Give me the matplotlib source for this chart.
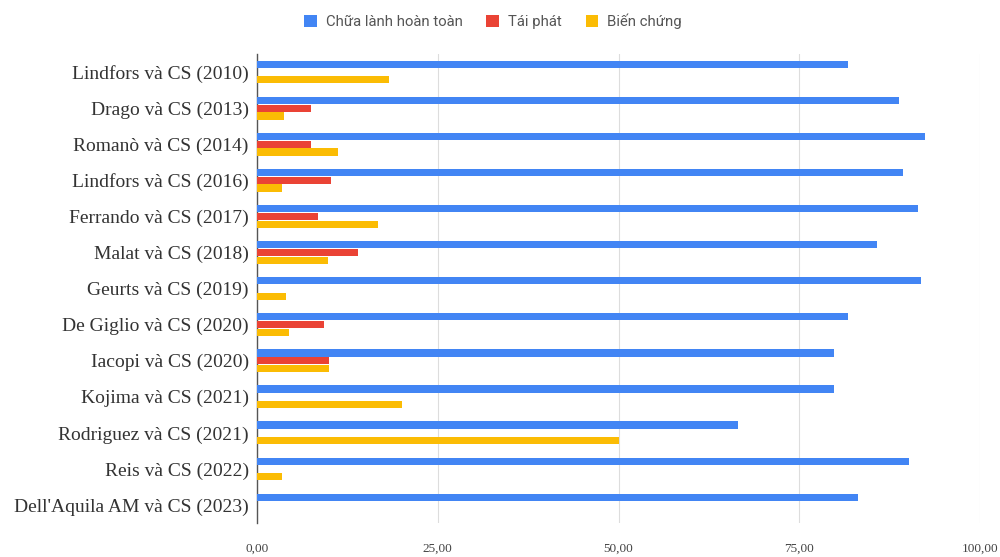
import numpy as np
import matplotlib
matplotlib.use("Agg")
import matplotlib.pyplot as plt
from matplotlib.ticker import FuncFormatter

# data
studies = ["Lindfors và CS (2010)", "Drago và CS (2013)", "Romanò và CS (2014)",
           "Lindfors và CS (2016)", "Ferrando và CS (2017)", "Malat và CS (2018)",
           "Geurts và CS (2019)", "De Giglio và CS (2020)", "Iacopi và CS (2020)",
           "Kojima và CS (2021)", "Rodriguez và CS (2021)", "Reis và CS (2022)",
           "Dell'Aquila AM và CS (2023)"]
healed = [81.8, 88.8, 92.4, 89.4, 91.4, 85.8, 91.8, 81.7, 79.8, 79.8, 66.5, 90.2, 83.1]
relapse = [0, 7.4, 7.4, 10.3, 8.4, 14.0, 0, 9.3, 10.0, 0, 0, 0, 0]
complic = [18.2, 3.8, 11.2, 3.4, 16.7, 9.8, 4.0, 4.4, 10.0, 20.1, 50.0, 3.4, 0]
series_names = ["Chữa lành hoàn toàn", "Tái phát", "Biến chứng"]
colors = ["#4285F4", "#EA4335", "#FBBC04"]
xticks = [0, 25, 50, 75, 100]

fig = plt.figure(figsize=(10, 5.57), dpi=100)
ax = fig.add_axes([0.257, 0.061, 0.723, 0.842])

y = np.arange(len(studies))
h = 0.2
off = 0.215
for vals, name, col, d in zip([healed, relapse, complic], series_names, colors, [-off, 0, off]):
    ax.barh(y + d, vals, height=h, color=col, label=name, zorder=3)

ax.set_ylim(len(studies) - 0.5, -0.5)
ax.set_xlim(0, 100)
ax.set_yticks(y)
ax.set_yticklabels(studies, family="Liberation Serif", fontsize=14, color="#333333")
ax.set_xticks(xticks)
ax.xaxis.set_major_formatter(FuncFormatter(lambda v, p: "{:.2f}".format(v).replace(".", ",")))
for lab in ax.get_xticklabels():
    lab.set_family("Liberation Serif")
    lab.set_fontsize(9.5)
    lab.set_color("#444444")
ax.tick_params(axis="both", length=0)
ax.tick_params(axis="x", pad=14)
ax.tick_params(axis="y", pad=6)
ax.grid(axis="x", color="#dddddd", linewidth=0.8, zorder=0)
for s in ["top", "right", "bottom"]:
    ax.spines[s].set_visible(False)
ax.spines["left"].set_color("#555555")
ax.spines["left"].set_linewidth(1)

fig.legend(loc="upper center", bbox_to_anchor=(0.493, 1.0), ncol=3, frameon=False,
           prop={"family": "Roboto", "size": 10.7}, labelcolor="#555555",
           handlelength=0.85, handleheight=0.85, columnspacing=1.6, handletextpad=0.6)

fig.savefig("out.png", dpi=100)
